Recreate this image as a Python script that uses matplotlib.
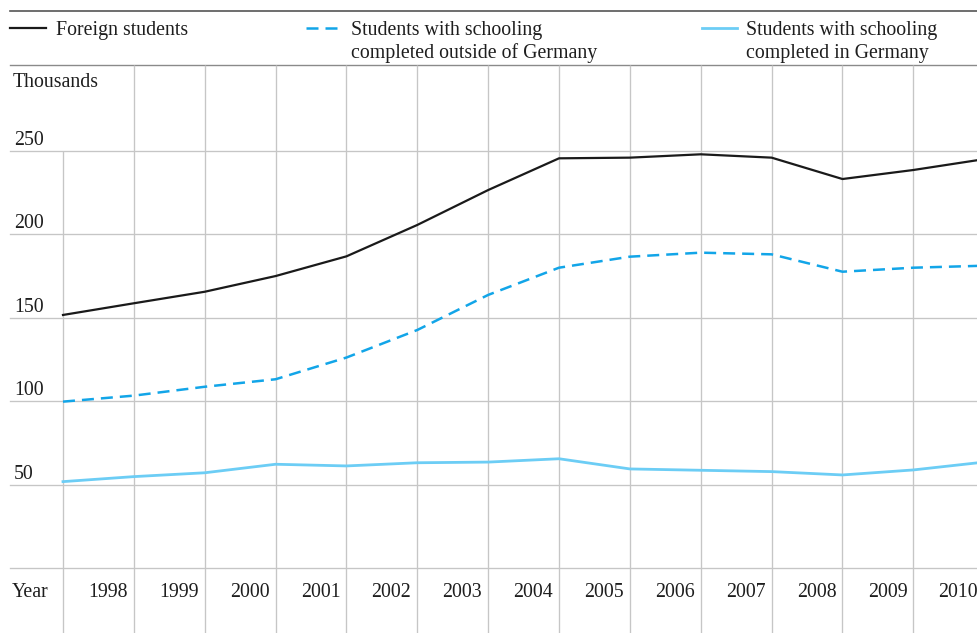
import matplotlib.pyplot as plt

# values in thousands
years = list(range(1997, 2011))
year_labels = [str(y) for y in range(1998, 2011)]
foreign = [151.7, 158.7, 165.6, 175.0, 186.8, 205.6, 226.5, 245.5, 245.9, 247.9, 245.9, 233.1, 238.5, 245.0]
outside = [99.8, 103.4, 108.7, 113.2, 126.2, 142.7, 163.7, 180.0, 186.6, 189.0, 188.0, 177.6, 180.0, 181.2]
inside = [51.9, 54.9, 57.2, 62.3, 61.3, 63.2, 63.6, 65.6, 59.5, 58.7, 57.9, 55.9, 58.9, 63.6]
yticks = [50, 100, 150, 200, 250]

W, H = 977, 633
FONT = "Liberation Serif"
FS = 14.3
GRID = "#c6c6c6"
TXT = "#1e1e1e"

fig = plt.figure(figsize=(W / 100, H / 100), dpi=100)
ax = fig.add_axes([0, 0, 1, 1])
ax.axis("off")

# pixel -> data mapping
x0, dx = 63, 70.86
y0, dy = 568.3, 1.67
ax.set_xlim(years[0] - x0 / dx, years[0] + (W - x0) / dx)
ax.set_ylim((y0 - H) / dy, y0 / dy)


def vy(py):
    return (y0 - py) / dy


xmin_frac = 10 / W

# horizontal grid incl. zero line
for v in [0] + yticks:
    ax.axhline(v, xmin=xmin_frac, color=GRID, lw=0.95, zorder=1)
    if v > 0:
        ax.text(14 / W, v + 3.6, str(v), transform=ax.get_yaxis_transform(),
                family=FONT, fontsize=FS, color=TXT, va="baseline")

# header lines
ax.axhline(vy(65), xmin=xmin_frac, color="#8a8a8a", lw=1.0, zorder=1)
ax.axhline(vy(11), xmin=xmin_frac, color="#555555", lw=1.2, zorder=1)

# vertical grid
ax.vlines(years[0], vy(H), yticks[-1], color=GRID, lw=0.95, zorder=1)
ax.vlines(years[1:], vy(H), vy(65), color=GRID, lw=0.95, zorder=1)

# series
ax.plot(years, foreign, color="#1a1a1a", lw=1.6, zorder=3)
ax.plot(years, outside, color="#12a5e8", lw=1.8, dashes=(4.8, 2.8), zorder=3)
ax.plot(years, inside, color="#6ccdf5", lw=2.0, zorder=3)

# year row
ax.text(12 / W, vy(597), "Year", transform=ax.get_yaxis_transform(),
        family=FONT, fontsize=FS, color=TXT, va="baseline")
for y, lab in zip(years[1:], year_labels):
    ax.text(y - 6 / dx, vy(597), lab, family=FONT, fontsize=FS,
            color=TXT, ha="right", va="baseline")

ax.text(13 / W, vy(87), "Thousands", transform=ax.get_yaxis_transform(),
        family=FONT, fontsize=FS, color=TXT, va="baseline")


# legend
def legend_item(x1, x2, tx, lines, **kw):
    fig.add_artist(plt.Line2D([x1 / W, x2 / W], [1 - 27.5 / H, 1 - 27.5 / H],
                              transform=fig.transFigure, **kw))
    for k, line in enumerate(lines):
        fig.text(tx / W, 1 - (35.5 + 22.5 * k) / H, line, family=FONT,
                 fontsize=FS, color=TXT, va="baseline")


legend_item(10, 46, 56, ["Foreign students"], color="#1a1a1a", lw=1.6)
legend_item(306, 341, 351, ["Students with schooling", "completed outside of Germany"],
            color="#12a5e8", lw=1.8, dashes=(4.8, 2.8))
legend_item(702, 737, 746, ["Students with schooling", "completed in Germany"],
            color="#6ccdf5", lw=2.0)

fig.savefig("out.png", dpi=100)
